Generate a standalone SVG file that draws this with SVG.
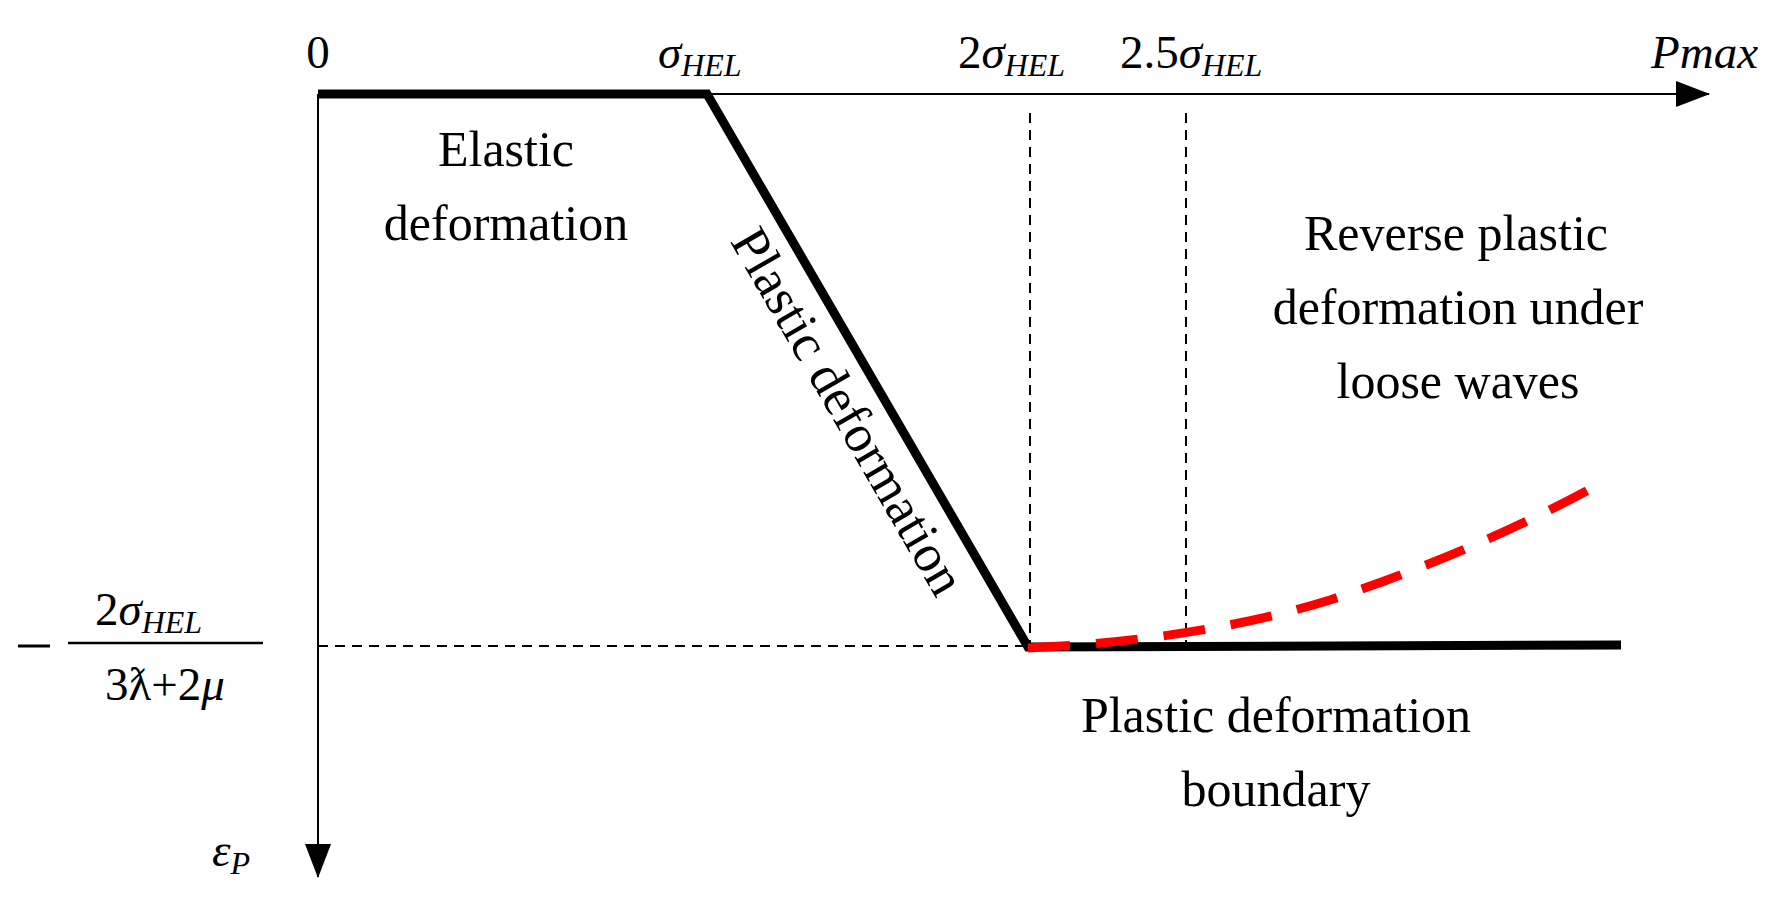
<svg xmlns="http://www.w3.org/2000/svg" width="1775" height="902" viewBox="0 0 1775 902">
<style>
text{font-family:"Liberation Serif","Times New Roman",serif;fill:#000}
.lb{font-size:50px;text-anchor:middle}
.ax{font-size:47px}
.sub{font-size:32px;font-style:italic}
.it{font-style:italic}
</style>
<defs>
<marker id="ah2" markerWidth="34" markerHeight="26" refX="33" refY="13" orient="auto" markerUnits="userSpaceOnUse" viewBox="0 0 34 26"><path d="M0,0 L34,13 L0,26 z" fill="#000"/></marker>
</defs>
<rect width="1775" height="902" fill="#fff"/>
<g id="connectors">
<line x1="318" y1="94" x2="1709" y2="94" stroke="#000" stroke-width="2" marker-end="url(#ah2)"/>
<line x1="318" y1="94" x2="318" y2="877" stroke="#000" stroke-width="2" marker-end="url(#ah2)"/>
<line x1="1030" y1="113" x2="1030" y2="645" stroke="#000" stroke-width="2" stroke-dasharray="10,7"/>
<line x1="1186" y1="113" x2="1186" y2="645" stroke="#000" stroke-width="2" stroke-dasharray="10,7"/>
<line x1="318" y1="646" x2="1028" y2="646" stroke="#000" stroke-width="2" stroke-dasharray="10,7"/>
<polyline points="318,94 707,94 1028,647 1621,645" fill="none" stroke="#000" stroke-width="9" stroke-linejoin="miter"/>
<path d="M1028,648 Q1200,640 1330,600 Q1480,550 1605,481" fill="none" stroke="#f00" stroke-width="9" stroke-dasharray="42,26"/>
</g>
<g id="axis-labels">
<text class="ax" x="318" y="68" text-anchor="middle">0</text>
<text class="ax it" x="658" y="68">σ<tspan class="sub" dy="8">HEL</tspan></text>
<text class="ax" x="958" y="68">2<tspan class="it">σ</tspan><tspan class="sub" dy="8">HEL</tspan></text>
<text class="ax" x="1120" y="68">2.5<tspan class="it">σ</tspan><tspan class="sub" dy="8">HEL</tspan></text>
<text class="ax it" x="1758" y="68" text-anchor="end">Pmax</text>
<text class="ax it" x="212" y="866">ε<tspan class="sub" dy="8">P</tspan></text>
</g>
<g id="fraction">
<line x1="18" y1="646" x2="50" y2="646" stroke="#000" stroke-width="3"/>
<text class="ax" x="95" y="625">2<tspan class="it">σ</tspan><tspan class="sub" dy="8">HEL</tspan></text>
<line x1="68" y1="643" x2="263" y2="643" stroke="#000" stroke-width="2.5"/>
<text class="ax" x="165" y="700" text-anchor="middle">3ƛ+2<tspan class="it">μ</tspan></text>
</g>
<g id="elastic"><text class="lb" x="506" y="166">Elastic</text><text class="lb" x="506" y="240">deformation</text></g>
<g id="plastic"><text class="lb" style="font-size:53px" transform="translate(833,420) rotate(60)">Plastic deformation</text></g>
<g id="reverse"><text class="lb" x="1456" y="250">Reverse plastic</text><text class="lb" x="1458" y="324">deformation under</text><text class="lb" x="1458" y="398">loose waves</text></g>
<g id="boundary"><text class="lb" x="1276" y="732">Plastic deformation</text><text class="lb" x="1276" y="806">boundary</text></g>
</svg>
